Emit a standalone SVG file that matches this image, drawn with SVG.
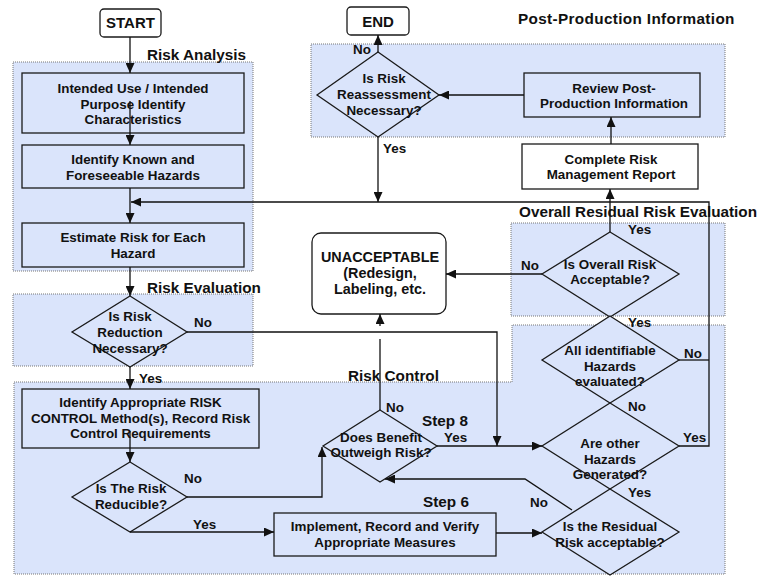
<svg xmlns="http://www.w3.org/2000/svg" width="763" height="577" viewBox="0 0 763 577">
<defs>
<style>
.reg{fill:#dae4fb;stroke:#777;stroke-width:1;stroke-dasharray:1 1}
.box{fill:#dae4fb;stroke:#1a1a1a;stroke-width:1.3}
.wbox{fill:#fff;stroke:#1a1a1a;stroke-width:1.3}
.dia{fill:#dae4fb;stroke:#1a1a1a;stroke-width:1.3}
.ln{fill:none;stroke:#111;stroke-width:1.3}
.arr{marker-end:url(#ah)}
text{font-family:"Liberation Sans",Arial,sans-serif;font-weight:bold;fill:#111}
.t{font-size:13.4px;text-anchor:middle}
.lb{font-size:13.4px}
.ttl{font-size:15.3px}
.big{font-size:15px;text-anchor:middle}
.un{font-size:14.4px;text-anchor:middle}
</style>
<marker id="ah" markerUnits="userSpaceOnUse" markerWidth="10" markerHeight="9" refX="10" refY="4.5" orient="auto">
<path d="M0,0 L10,4.5 L0,9 z" fill="#111"/>
</marker>
</defs>
<rect width="763" height="577" fill="#fff"/>
<g id="regions">
<rect class="reg" x="13" y="62" width="240" height="209"/>
<rect class="reg" x="13" y="294" width="240" height="72"/>
<polygon class="reg" points="14,382 512,382 512,325 725,325 725,574 14,574"/>
<rect class="reg" x="511" y="223" width="214" height="93"/>
<rect class="reg" x="311" y="44" width="414" height="93"/>
<text class="ttl" x="147" y="60">Risk Analysis</text>
<text class="ttl" x="147" y="293">Risk Evaluation</text>
<text class="ttl" x="348" y="381">Risk Control</text>
<text class="ttl" x="519" y="217">Overall Residual Risk Evaluation</text>
<text class="ttl" x="518" y="24" style="letter-spacing:0.35px">Post-Production Information</text>
</g>
<g id="start"><rect class="wbox" x="100" y="9" width="61" height="28" rx="4"/><text class="big" x="130.5" y="28">START</text></g>
<g id="end"><rect class="wbox" x="347" y="7" width="62" height="28" rx="4"/><text class="big" x="378" y="27">END</text></g>
<g id="intended"><rect class="box" x="22" y="73" width="222" height="60"/>
<text class="t" x="133" y="93">Intended Use / Intended</text><text class="t" x="133" y="108.5">Purpose Identify</text><text class="t" x="133" y="124">Characteristics</text></g>
<g id="hazards"><rect class="box" x="22" y="145" width="222" height="43"/>
<text class="t" x="133" y="164">Identify Known and</text><text class="t" x="133" y="180">Foreseeable Hazards</text></g>
<g id="estimate"><rect class="box" x="22" y="223" width="222" height="44"/>
<text class="t" x="133" y="242">Estimate Risk for Each</text><text class="t" x="133" y="258">Hazard</text></g>
<g id="reduction"><polygon class="dia" points="130,296 187,332 130,367 72,332"/>
<text class="t" x="130" y="321">Is Risk</text><text class="t" x="130" y="337">Reduction</text><text class="t" x="130" y="353">Necessary?</text></g>
<g id="identify"><rect class="box" x="22" y="389" width="237" height="59"/>
<text class="t" x="140.5" y="407">Identify Appropriate RISK</text><text class="t" x="140.5" y="422.5">CONTROL Method(s), Record Risk</text><text class="t" x="140.5" y="438">Control Requirements</text></g>
<g id="reducible"><polygon class="dia" points="130,462 187,497 130,532 72,497"/>
<text class="t" x="131" y="493">Is The Risk</text><text class="t" x="131" y="509">Reducible?</text></g>
<g id="implement"><rect class="box" x="274" y="513" width="222" height="43"/>
<text class="t" x="385" y="531">Implement, Record and Verify</text><text class="t" x="385" y="546.5">Appropriate Measures</text></g>
<g id="benefit"><polygon class="dia" points="380,410 437,446 380,482 323,446"/>
<text class="t" x="381" y="441.5">Does Benefit</text><text class="t" x="381" y="457">Outweigh Risk?</text></g>
<g id="unacceptable"><rect class="wbox" x="312" y="233" width="134" height="81" rx="9"/>
<text class="un" x="380" y="262">UNACCEPTABLE</text><text class="un" x="380" y="278">(Redesign,</text><text class="un" x="380" y="294">Labeling, etc.</text></g>
<g id="overall"><polygon class="dia" points="610,232 679,274 610,317 542,274"/>
<text class="t" x="610" y="269">Is Overall Risk</text><text class="t" x="610" y="284">Acceptable?</text></g>
<g id="allhaz"><polygon class="dia" points="610,316 679,360 610,403 542,360"/>
<text class="t" x="610" y="355">All identifiable</text><text class="t" x="610" y="371">Hazards</text><text class="t" x="610" y="386">evaluated?</text></g>
<g id="other"><polygon class="dia" points="610,403 679,446 610,489 542,446"/>
<text class="t" x="610" y="448">Are other</text><text class="t" x="610" y="463.5">Hazards</text><text class="t" x="610" y="479">Generated?</text></g>
<g id="residual"><polygon class="dia" points="610,489 679,532 610,575 542,532"/>
<text class="t" x="610" y="531">Is the Residual</text><text class="t" x="610" y="546.5">Risk acceptable?</text></g>
<g id="reassess"><polygon class="dia" points="378,52 439,95 378,137 317,95"/>
<text class="t" x="384" y="83">Is Risk</text><text class="t" x="384" y="99">Reassessment</text><text class="t" x="384" y="114.5">Necessary?</text></g>
<g id="review"><rect class="box" x="524" y="73" width="176" height="44"/>
<text class="t" x="614" y="92.5">Review Post-</text><text class="t" x="614" y="108">Production Information</text></g>
<g id="complete"><rect class="wbox" x="522" y="144" width="176" height="45"/>
<text class="t" x="611" y="163.5">Complete Risk</text><text class="t" x="611" y="179">Management Report</text></g>
<g id="connectors">
<path class="ln arr" d="M130,37 V73"/>
<path class="ln arr" d="M130,101 V145"/>
<path class="ln arr" d="M130,188 V223"/>
<path class="ln arr" d="M130,267 V296"/>
<path class="ln arr" d="M130,367 V389"/>
<path class="ln arr" d="M130,431 V462"/>
<path class="ln arr" d="M187,497 H322 V447"/>
<path class="ln arr" d="M130,532 H274"/>
<path class="ln arr" d="M496,533 H542"/>
<path class="ln arr" d="M572,510 L525,479 H385"/>
<path class="ln arr" d="M437,446 H542"/>
<path class="ln arr" d="M187,332 H497 V446"/>
<path class="ln" d="M380,410 V339"/>
<path class="ln arr" d="M380,326 V314"/>
<path class="ln arr" d="M542,274 H446"/>
<path class="ln arr" d="M610,232 V189"/>
<path class="ln arr" d="M611,144 V117"/>
<path class="ln arr" d="M524,95 H439"/>
<path class="ln arr" d="M378,52 V35"/>
<path class="ln arr" d="M378,137 V202"/>
<path class="ln" d="M679,360 H709"/>
<path class="ln arr" d="M679,446 H709 V202 H131"/>
</g>
<g id="labels">
<text class="lb" x="353" y="54">No</text>
<text class="lb" x="383" y="153">Yes</text>
<text class="lb" x="194" y="327">No</text>
<text class="lb" x="139" y="383">Yes</text>
<text class="lb" x="184" y="483">No</text>
<text class="lb" x="193" y="529">Yes</text>
<text class="lb" x="386" y="412">No</text>
<text class="lb" x="444" y="442">Yes</text>
<text class="ttl" x="422" y="426">Step 8</text>
<text class="ttl" x="423" y="507">Step 6</text>
<text class="lb" x="530" y="507">No</text>
<text class="lb" x="628" y="497">Yes</text>
<text class="lb" x="683" y="442">Yes</text>
<text class="lb" x="628" y="411">No</text>
<text class="lb" x="684" y="358">No</text>
<text class="lb" x="628" y="327">Yes</text>
<text class="lb" x="628" y="234">Yes</text>
<text class="lb" x="521" y="270">No</text>
</g>
</svg>
